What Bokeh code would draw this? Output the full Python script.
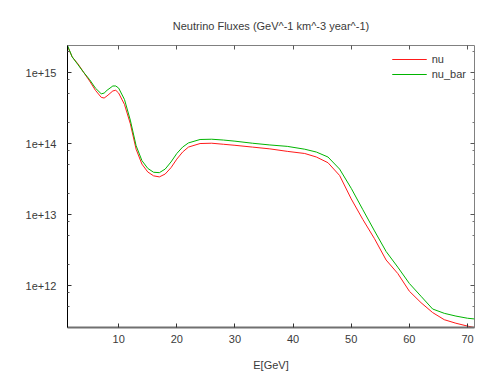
from bokeh.plotting import figure
from bokeh.models import (Range1d, FixedTicker, CustomJSTickFormatter, LinearAxis,
                          LogAxis, Legend, LegendItem)
from bokeh.embed import file_html
from bokeh.resources import INLINE

# Energy grid (GeV)
energy = [1.2, 2, 3, 4, 5, 6, 7, 7.5, 8, 9, 9.5, 10, 11, 12, 13, 14, 15, 16, 17, 18,
          19, 20, 21, 22, 24, 26, 28, 30, 33, 36, 39, 42, 44, 46, 48, 50, 52, 54,
          56, 58, 60, 62, 64, 66, 68, 70, 71.2]

# nu flux (GeV^-1 km^-3 year^-1)
nu = [2.34e15, 1.66e15, 1.32e15, 1.00e15, 7.59e14, 5.62e14, 4.47e14, 4.37e14, 4.68e14,
      5.50e14, 5.62e14, 5.13e14, 3.55e14, 1.91e14, 8.32e13, 5.13e13, 3.98e13, 3.51e13,
      3.39e13, 3.72e13, 4.57e13, 6.03e13, 7.59e13, 8.91e13, 1.00e14, 1.01e14, 9.77e13,
      9.44e13, 8.91e13, 8.41e13, 7.76e13, 7.24e13, 6.46e13, 5.37e13, 3.55e13, 1.66e13,
      8.51e12, 4.57e12, 2.29e12, 1.48e12, 8.32e11, 5.75e11, 4.17e11, 3.31e11, 2.95e11,
      2.69e11, 2.57e11]

# nu_bar flux
nu_bar = [2.40e15, 1.66e15, 1.29e15, 1.00e15, 7.94e14, 6.03e14, 5.01e14, 5.13e14, 5.62e14,
          6.46e14, 6.46e14, 6.03e14, 4.17e14, 2.14e14, 9.33e13, 5.75e13, 4.47e13, 3.94e13,
          3.89e13, 4.37e13, 5.50e13, 7.24e13, 8.91e13, 1.02e14, 1.14e14, 1.15e14, 1.12e14,
          1.08e14, 1.01e14, 9.55e13, 9.12e13, 8.32e13, 7.59e13, 6.46e13, 4.37e13, 2.34e13,
          1.17e13, 5.89e12, 3.02e12, 1.82e12, 1.07e12, 7.08e11, 4.68e11, 4.07e11, 3.72e11,
          3.47e11, 3.39e11]

x_ticks = [10, 20, 30, 40, 50, 60, 70]
y_ticks = [1e12, 1e13, 1e14, 1e15]
y_minor = [m * 10.0 ** e for e in range(11, 16) for m in (2, 5, 8)]

FONT = "Liberation Sans"
TXT = "#3a3a3a"

p = figure(width=498, height=374, output_backend="svg", toolbar_location=None,
           x_range=Range1d(1.2, 71.2), y_range=Range1d(2.57e11, 2.40e15),
           y_axis_type="log",
           min_border_left=67, min_border_right=24, min_border_top=45,
           min_border_bottom=47,
           title="Neutrino Fluxes (GeV^-1 km^-3 year^-1)")

p.title.align = "center"
p.title.text_font = FONT
p.title.text_font_size = "11px"
p.title.text_font_style = "normal"
p.title.text_color = TXT
p.title.standoff = 27

p.xgrid.visible = False
p.ygrid.visible = False
p.outline_line_color = "#808080"
p.outline_line_width = 1
p.background_fill_color = "white"
p.border_fill_color = "white"

r1 = p.line(energy, nu, line_color="#ff1a1a", line_width=1)
r2 = p.line(energy, nu_bar, line_color="#00b400", line_width=1)

xa = p.xaxis[0]
xa.ticker = FixedTicker(ticks=x_ticks)
xa.major_tick_in = 4
xa.major_tick_out = 0
xa.minor_tick_in = 0
xa.minor_tick_out = 0
xa.major_label_standoff = 7
xa.major_label_text_font = FONT
xa.major_label_text_font_size = "11px"
xa.major_label_text_color = TXT
xa.axis_label = "E[GeV]"
xa.axis_label_text_font = FONT
xa.axis_label_text_font_size = "11px"
xa.axis_label_text_font_style = "normal"
xa.axis_label_text_color = TXT
xa.axis_label_standoff = 13
xa.axis_line_color = "#707070"
xa.axis_line_width = 2
xa.major_tick_line_color = "#333333"

ya = p.yaxis[0]
ya.ticker = FixedTicker(ticks=y_ticks, minor_ticks=y_minor)
ya.formatter = CustomJSTickFormatter(code="return '1e+' + Math.round(Math.log10(tick));")
ya.major_tick_in = 4
ya.major_tick_out = 0
ya.minor_tick_in = 2
ya.minor_tick_out = 0
ya.major_label_standoff = 11
ya.major_label_text_font = FONT
ya.major_label_text_font_size = "11px"
ya.major_label_text_color = TXT
ya.axis_line_color = "black"
ya.major_tick_line_color = "#333333"
ya.minor_tick_line_color = "#555555"

empty = CustomJSTickFormatter(code="return '';")

top = LinearAxis(ticker=FixedTicker(ticks=x_ticks), formatter=empty,
                 major_tick_in=4, major_tick_out=0, minor_tick_in=0, minor_tick_out=0,
                 major_label_standoff=0, major_label_text_font_size="0px",
                 axis_line_color=None, major_tick_line_color="#555555")
p.add_layout(top, "above")

right = LogAxis(ticker=FixedTicker(ticks=y_ticks, minor_ticks=y_minor), formatter=empty,
                major_tick_in=4, major_tick_out=0, minor_tick_in=2, minor_tick_out=0,
                major_label_standoff=0, major_label_text_font_size="0px",
                axis_line_color=None,
                major_tick_line_color="#555555", minor_tick_line_color="#777777")
p.add_layout(right, "right")

legend = Legend(items=[LegendItem(label="nu", renderers=[r1]),
                       LegendItem(label="nu_bar", renderers=[r2])],
                location="top_right", border_line_color=None,
                background_fill_alpha=0, label_text_font=FONT,
                label_text_font_size="11px", label_text_color=TXT,
                glyph_width=35, glyph_height=12, label_height=12,
                spacing=3, padding=2, margin=8)
p.add_layout(legend)

open("out.html", "w").write(file_html(p, INLINE))
